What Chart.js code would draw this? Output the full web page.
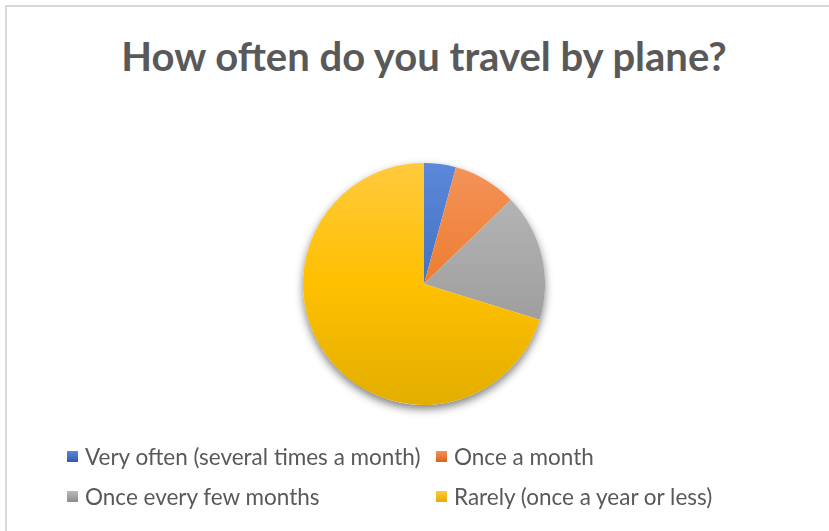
<!DOCTYPE html>
<html>
<head>
<meta charset="utf-8">
<script src="https://cdn.jsdelivr.net/npm/chart.js@4"></script>
<style>
    html, body { margin: 0; padding: 0; background: #fff; }
    body { width: 829px; height: 531px; position: relative; overflow: hidden; font-family: Lato, 'Open Sans', sans-serif; }
    .frame { position: absolute; left: 5px; top: 5px; right: -10px; bottom: -10px; border-top: 2px solid #d9d9d9; border-left: 2px solid #d9d9d9; }
    #chart { position: absolute; left: 0; top: 0; }
    h1 { position: absolute; left: 0; width: 848px; top: 30px; margin: 0; line-height: 52px; text-align: center; font-size: 40px; font-weight: bold; color: #595959; }
    #legend { position: absolute; left: 67px; top: 445px; display: grid; grid-template-columns: 369px auto; row-gap: 17px; color: #595959; font-size: 22.5px; }
    #legend .item { display: flex; align-items: center; height: 23px; white-space: nowrap; }
    #legend .box { width: 11px; height: 11px; margin-right: 7px; }
</style>
</head>
<body>
<div class="frame"></div>
<h1>How often do you travel by plane?</h1>
<canvas id="chart" width="829" height="531"></canvas>
<div id="legend"></div>
<script>
const answers = ['Very often (several times a month)', 'Once a month', 'Once every few months', 'Rarely (once a year or less)'];
const responses = [2, 4, 8, 33];

// top / middle / bottom shades for each slice
const shades = [
    ['#5b88d8', '#4472c4', '#2f5aae'],
    ['#f4935a', '#ed7d31', '#d8621a'],
    ['#bababa', '#a5a5a5', '#8d8d8d'],
    ['#ffca3e', '#ffc000', '#e3ae00']
];

function sliceFill(context) {
    const chart = context.chart;
    const area = chart.chartArea;
    if (!area) return shades[context.dataIndex][1];
    const s = shades[context.dataIndex];
    const g = chart.ctx.createLinearGradient(0, area.top, 0, area.bottom);
    g.addColorStop(0, s[0]);
    g.addColorStop(0.5, s[1]);
    g.addColorStop(1, s[2]);
    return g;
}

// soft drop shadow under the whole pie
const pieShadow = {
    id: 'pieShadow',
    beforeDatasetsDraw(chart) {
        const arc = chart.getDatasetMeta(0).data[0];
        if (!arc) return;
        const ctx = chart.ctx;
        ctx.save();
        ctx.shadowColor = 'rgba(0, 0, 0, 0.5)';
        ctx.shadowBlur = 8;
        ctx.shadowOffsetY = 4;
        ctx.fillStyle = '#ffffff';
        ctx.beginPath();
        ctx.arc(arc.x, arc.y, arc.outerRadius, 0, Math.PI * 2);
        ctx.fill();
        ctx.restore();
    }
};

const chart = new Chart(document.getElementById('chart'), {
    type: 'pie',
    data: {
        labels: answers,
        datasets: [{
            data: responses,
            backgroundColor: sliceFill,
            borderWidth: 0,
            hoverOffset: 0
        }]
    },
    options: {
        responsive: false,
        animation: false,
        layout: {
            padding: { left: 303, right: 284, top: 163, bottom: 126 }
        },
        plugins: {
            legend: { display: false },
            title: { display: false },
            tooltip: { enabled: false }
        }
    },
    plugins: [pieShadow]
});

// legend in two aligned columns, built from the chart data
const legend = document.getElementById('legend');
chart.data.labels.forEach((label, i) => {
    const item = document.createElement('div');
    item.className = 'item';
    const box = document.createElement('span');
    box.className = 'box';
    box.style.background = 'linear-gradient(' + shades[i][0] + ', ' + shades[i][2] + ')';
    const text = document.createElement('span');
    text.textContent = label;
    item.appendChild(box);
    item.appendChild(text);
    legend.appendChild(item);
});
</script>
</body>
</html>
